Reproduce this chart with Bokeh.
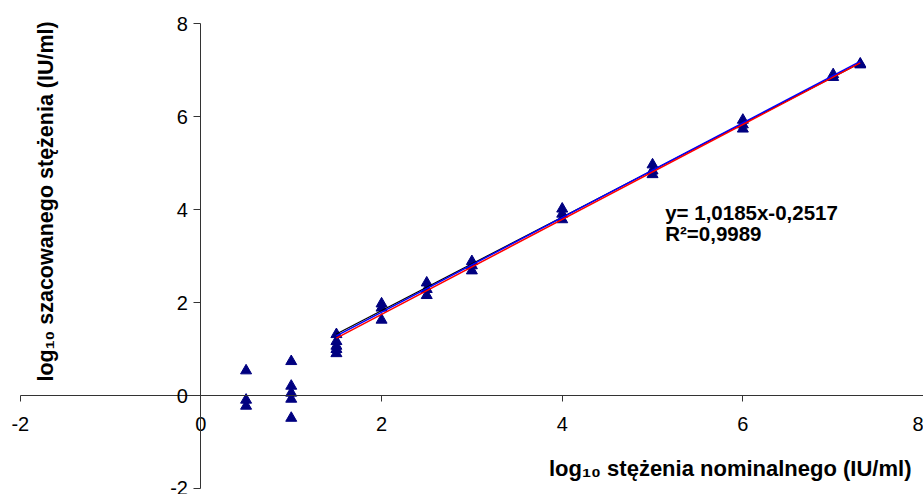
import math
from bokeh.plotting import figure
from bokeh.models import Label
from bokeh.embed import file_html
from bokeh.resources import INLINE

# nominal log10 concentration and estimated log10 concentration
x_nominal = [0.5, 0.5, 0.5,
             1.0, 1.0, 1.0, 1.0, 1.0,
             1.5, 1.5, 1.5, 1.5, 1.5,
             2.0, 2.0, 2.0,
             2.5, 2.5, 2.5,
             3.0, 3.0, 3.0,
             4.0, 4.0, 4.0,
             5.0, 5.0, 5.0,
             6.0, 6.0, 6.0,
             7.0, 7.0,
             7.3, 7.3]
y_estimated = [0.54, -0.09, -0.22,
               0.74, 0.21, 0.06, -0.07, -0.48,
               1.32, 1.17, 1.07, 1.00, 0.91,
               1.98, 1.89, 1.63,
               2.43, 2.29, 2.16,
               2.89, 2.80, 2.69,
               4.02, 3.91, 3.79,
               4.97, 4.84, 4.76,
               5.93, 5.83, 5.74,
               6.91, 6.85,
               7.14, 7.12]

# trend lines (start/end)
black_x = [1.5, 7.3]
black_y = [1.33, 7.16]
blue_x = [1.5, 7.3]
blue_y = [1.29, 7.19]
red_x = [1.5, 7.3]
red_y = [1.24, 7.16]

x_ticks = [-2, 0, 2, 4, 6, 8]
y_ticks = [-2, 0, 2, 4, 6, 8]
tick_labels = ["-2", "0", "2", "4", "6", "8"]

x_title = "log\u2081\u2080 st\u0119\u017cenia nominalnego (IU/ml)"
y_title = "log\u2081\u2080 szacowanego st\u0119\u017cenia (IU/ml)"
eq_line1 = "y= 1,0185x-0,2517"
eq_line2 = "R\u00b2=0,9989"

FONT = "Liberation Sans"

# frame covers the whole canvas; axes cross at zero and are bounded to [-2, 8]
p = figure(width=923, height=494, x_range=(-2.219, 8.0), y_range=(-2.123, 8.501),
           output_backend="svg", toolbar_location=None,
           min_border_left=0, min_border_right=0,
           min_border_top=0, min_border_bottom=0)
p.grid.visible = False
p.outline_line_color = None
p.background_fill_color = "white"
p.border_fill_color = "white"

for ax, ticks in ((p.xaxis[0], x_ticks), (p.yaxis[0], y_ticks)):
    ax.fixed_location = 0
    ax.ticker = ticks
    ax.bounds = (ticks[0], ticks[-1])
    ax.major_label_overrides = {t: s for t, s in zip(ticks, tick_labels)}
    ax.minor_tick_line_color = None
    ax.major_tick_in = 0
    ax.axis_line_color = "#333333"
    ax.major_tick_line_color = "#333333"
    ax.major_label_text_font = FONT
    ax.major_label_text_font_size = "20px"
    ax.major_label_text_color = "black"

p.xaxis.major_tick_out = 6
p.yaxis.major_tick_out = 7
p.xaxis.major_label_standoff = 15
p.yaxis.major_label_standoff = 6

p.scatter(x_nominal, y_estimated, marker="triangle", size=11,
          fill_color="#000080", line_color="#000080")

p.line(black_x, black_y, line_color="black", line_width=1.2)
p.line(blue_x, blue_y, line_color="#0000FF", line_width=1.5)
p.line(red_x, red_y, line_color="#FF0000", line_width=1.5)

p.add_layout(Label(x=5.86, y=-1.56, text=x_title, text_font=FONT,
                   text_font_size="22px", text_font_style="bold",
                   text_color="black",
                   text_align="center", text_baseline="middle"))
p.add_layout(Label(x=-1.72, y=4.18, text=y_title, text_font=FONT,
                   text_font_size="21.5px", text_font_style="bold",
                   text_color="black",
                   text_align="center", text_baseline="middle",
                   angle=math.pi / 2))
p.add_layout(Label(x=5.14, y=3.94, text=eq_line1, text_font=FONT,
                   text_font_size="20.5px", text_font_style="bold",
                   text_color="black",
                   text_align="left", text_baseline="middle"))
p.add_layout(Label(x=5.14, y=3.49, text=eq_line2, text_font=FONT,
                   text_font_size="20.5px", text_font_style="bold",
                   text_color="black",
                   text_align="left", text_baseline="middle"))

open("out.html", "w").write(file_html(p, INLINE))
